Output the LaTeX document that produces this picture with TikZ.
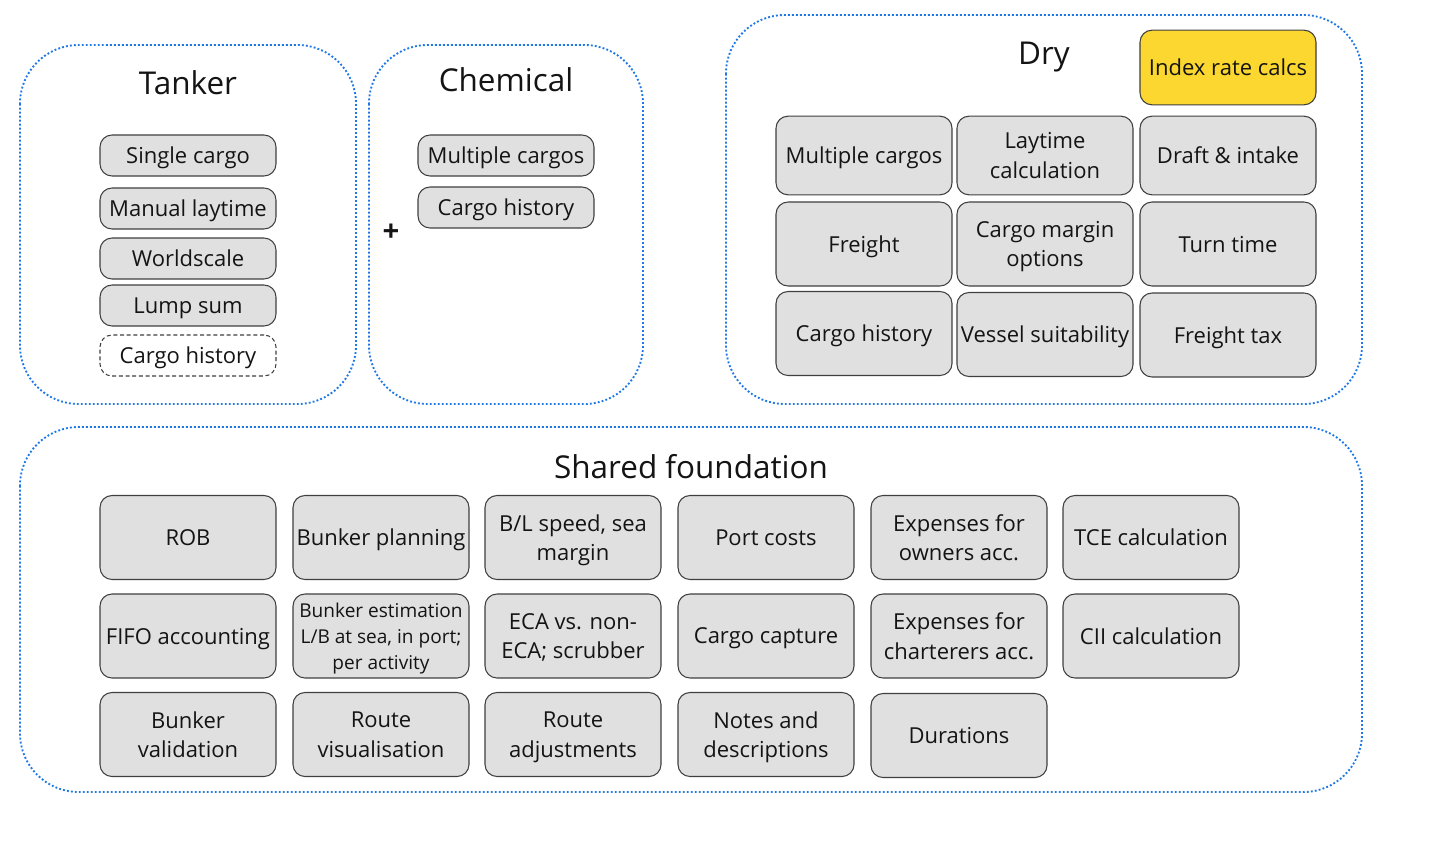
\documentclass[tikz,border=0pt]{standalone}
\usepackage{fontspec}
\setmainfont{Open Sans}
\definecolor{contblue}{RGB}{30,120,230}
\definecolor{boxfill}{RGB}{224,224,224}
\definecolor{boxline}{RGB}{64,64,64}
\definecolor{idxyellow}{RGB}{251,215,47}
\definecolor{txt}{RGB}{20,20,20}
\begin{document}
\begin{tikzpicture}[x=0.75pt,y=-0.75pt,
  container/.style={draw=contblue,line width=1.4pt,dash pattern=on 1.4pt off 1.6pt,rounded corners=44pt},
  title/.style={font=\fontsize{23.6}{28}\selectfont,text=txt},
  item/.style={draw=boxline,fill=boxfill,line width=0.8pt,rounded corners=9pt,
    minimum width=132pt,inner sep=0pt,align=center,text=txt,text depth=0pt,
    font=\fontsize{16.5}{22}\selectfont},
  small/.style={item,minimum height=30.75pt},
  big/.style={item,minimum height=63pt},
  dashitem/.style={small,fill=none,dashed,dash pattern=on 3pt off 2pt},
  idx/.style={item,fill=idxyellow,minimum height=56pt},
  tiny/.style={font=\fontsize{14.3}{19.5}\selectfont}]
\useasboundingbox (0,0) rectangle (1452,856);
\fill[white] (0,0) rectangle (1452,856);
% containers
\draw[container] (20,45) rectangle (356,404);
\draw[container] (369,45) rectangle (643,404);
\draw[container] (726,15) rectangle (1362,404);
\draw[container] (20,427) rectangle (1362,792);
% titles
\node[title] (tTanker) at (188,83) {Tanker};
\node[title] (tChem) at (506,80) {Chemical};
\node[title] (tDry) at (1044,57) {Dry};
\node[title] (tShared) at (691,467) {Shared foundation};
\node[font=\fontsize{22}{24}\selectfont\bfseries,text=txt] (plus) at (391,233) {+};
% Tanker
\node[small] (t1) at (188,155.5) {Single cargo};
\node[small] (t2) at (188,208.5) {Manual laytime};
\node[small] (t3) at (188,258.5) {Worldscale};
\node[small] (t4) at (188,305.5) {Lump sum};
\node[dashitem] (t5) at (188,355.5) {Cargo history};
% Chemical
\node[small] (c1) at (506,155.5) {Multiple cargos};
\node[small] (c2) at (506,207.5) {Cargo history};
% Dry
\node[idx] (d0) at (1228,67.5) {Index rate calcs};
\node[item,minimum height=59pt] (d11) at (864,155.5) {Multiple cargos};
\node[item,minimum height=59pt] (d12) at (1045,155.5) {Laytime\\calculation};
\node[item,minimum height=59pt] (d13) at (1228,155.5) {Draft \& intake};
\node[big] (d21) at (864,244) {Freight};
\node[big] (d22) at (1045,244) {Cargo margin\\options};
\node[big] (d23) at (1228,244) {Turn time};
\node[big] (d31) at (864,333.5) {Cargo history};
\node[big] (d32) at (1045,334.5) {Vessel suitability};
\node[big] (d33) at (1228,335) {Freight tax};
% Shared row 1
\node[big] (s11) at (188,537.5) {ROB};
\node[big] (s12) at (381,537.5) {Bunker planning};
\node[big] (s13) at (573,537.5) {B/L speed, sea\\margin};
\node[big] (s14) at (766,537.5) {Port costs};
\node[big] (s15) at (959,537.5) {Expenses for\\owners acc.};
\node[big] (s16) at (1151,537.5) {TCE calculation};
% row 2
\node[big] (s21) at (188,636) {FIFO accounting};
\node[big,tiny] (s22) at (381,636) {Bunker estimation\\L/B at sea, in port;\\per activity};
\node[big] (s23) at (573,636) {ECA vs. non-\\ECA; scrubber};
\node[big] (s24) at (766,636) {Cargo capture};
\node[big] (s25) at (959,636) {Expenses for\\charterers acc.};
\node[big] (s26) at (1151,636) {CII calculation};
% row 3
\node[big] (s31) at (188,734.5) {Bunker\\validation};
\node[big] (s32) at (381,734.5) {Route\\visualisation};
\node[big] (s33) at (573,734.5) {Route\\adjustments};
\node[big] (s34) at (766,734.5) {Notes and\\descriptions};
\node[big] (s35) at (959,735.5) {Durations};
\end{tikzpicture}
\end{document}
